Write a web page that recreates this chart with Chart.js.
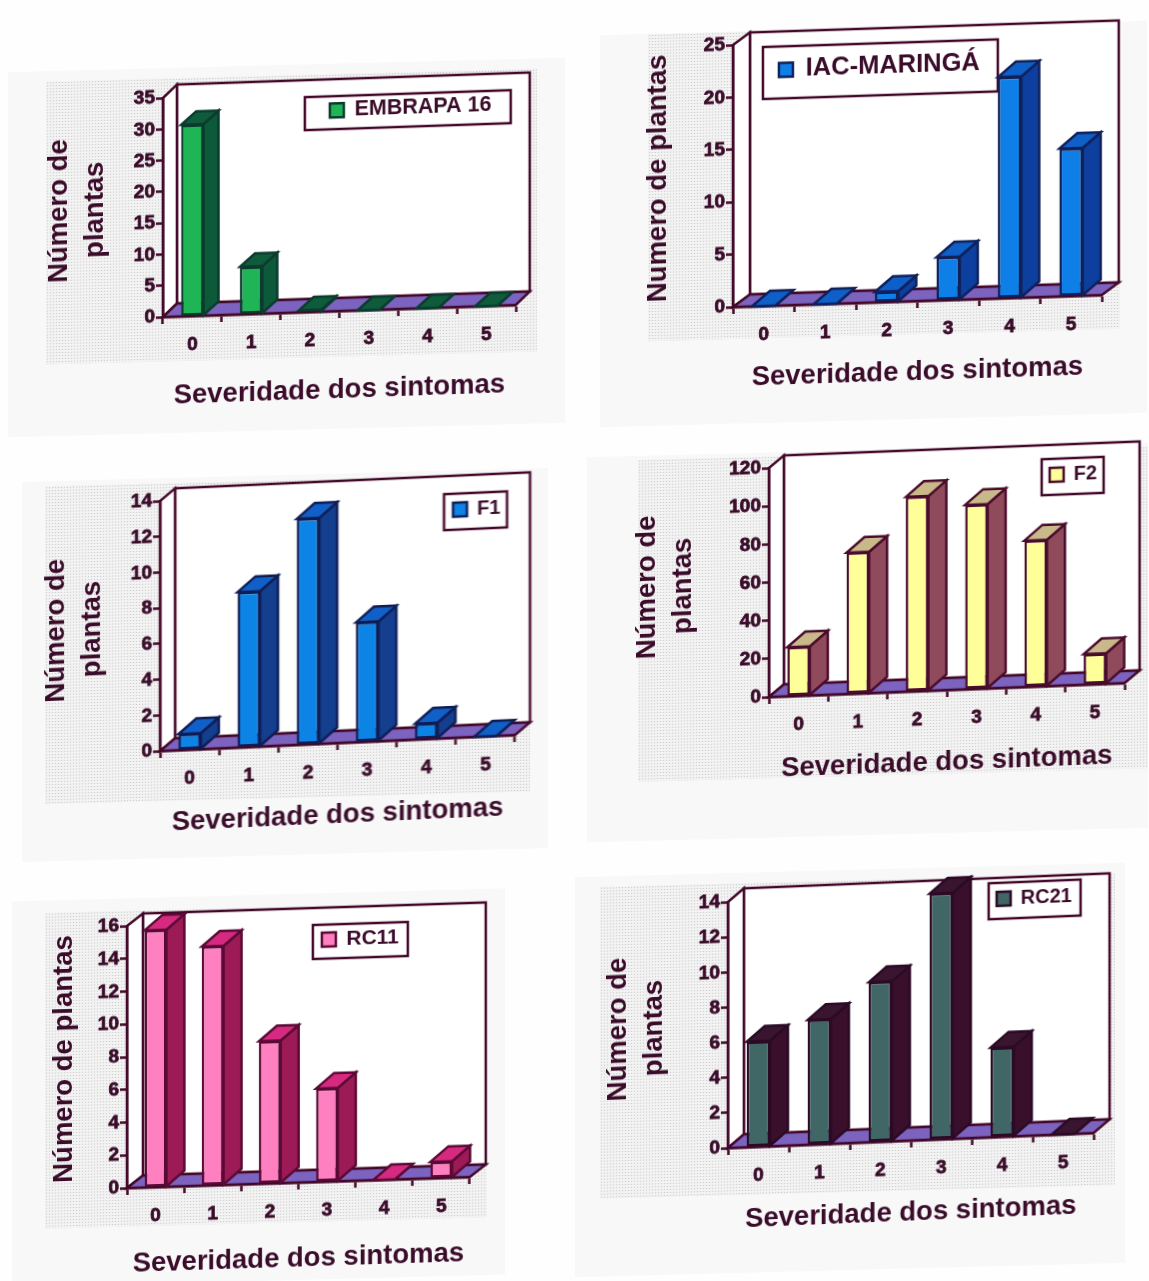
<!DOCTYPE html>
<html>
<head>
<meta charset="utf-8">
<title>Severidade dos sintomas</title>
<script src="https://cdn.jsdelivr.net/npm/chart.js@4"></script>
<style>
  html, body { margin: 0; padding: 0; background: #fefefe; }
  #page { position: relative; width: 1149px; height: 1281px; overflow: hidden; }
  .light, .dots, canvas { position: absolute; }
  .light { background: #f8f8f9; }
  .dots {
    background-color: #f3f3f3;
    background-image: radial-gradient(#cdcdcd 0.8px, transparent 0.9px);
    background-size: 3px 3px;
  }
  canvas { filter: blur(0.6px); }
</style>
</head>
<body>
<div id="page"></div>
<script>
const categories = ['0', '1', '2', '3', '4', '5'];
const embrapa16 = [30.6, 7.6, 0.3, 0, 0, 0];
const iacMaringa = [0, 0, 1, 4.1, 21.1, 14.1];
const f1 = [0.9, 8.7, 12.65, 6.7, 0.88, 0];
const f2 = [25.7, 74, 102, 96.6, 76.7, 16];
const rc11 = [15.7, 14.6, 8.7, 5.7, 0, 1];
const rc21 = [6, 7.1, 9.1, 14, 5.1, 0];

const xTitle = 'Severidade dos sintomas';
const ink = '#3a0c2a';
const wallLine = '#430829';
const floorColor = '#7b63bf';
const fontFamily = '"Liberation Sans", Arial, sans-serif';

// page patches of the scan
const lightPatches = [[8, 65, 565, 430], [600, 28, 1147, 420], [22, 475, 548, 855],
  [587, 450, 1148, 835], [12, 895, 505, 1281], [575, 870, 1125, 1270]];
const dotPatches = [[46, 75, 537, 358], [648, 28, 1120, 335], [45, 480, 530, 798],
  [638, 453, 1148, 775], [45, 907, 487, 1223], [600, 880, 1115, 1192]];

// ox,oy = front left corner of the plot on the page, legend = [x, y, w, h, inset, font]
const panels = [
  { name: 'EMBRAPA 16', data: embrapa16, yTitle: ['Número de', 'plantas'], yMax: 35, yStep: 5,
    ox: 163, oy: 317, w: 353, h: 219, skew: 1.95, titleX: 60, drop: 79, dx: 14, dy: 13, bx: 15, by: 13,
    legend: [142, -215, 206, 33, 25, 21.5],
    front: '#1fb556', side: '#0c5a3a', top: '#0e5c3c', line: '#0b3b2e' },
  { name: 'IAC-MARINGÁ', data: iacMaringa, yTitle: 'Numero de plantas', yMax: 25, yStep: 5,
    ox: 733, oy: 307, w: 369, h: 262, skew: 1.86, titleX: 659, drop: 71, dx: 17, dy: 12, bx: 18, by: 15,
    legend: [30, -259, 235, 52, 16, 25.5],
    front: '#0f7fe8', side: '#0c3f9e', top: '#0e5fc8', line: '#10205a' },
  { name: 'F1', data: f1, yTitle: ['Número de', 'plantas'], yMax: 14, yStep: 2,
    ox: 160, oy: 751, w: 355, h: 250, skew: 2.58, titleX: 57, drop: 72, dx: 15, dy: 12, bx: 18, by: 15,
    legend: [284, -244, 63, 36, 9, 20],
    front: '#0c84e6', side: '#143e8e', top: '#1160c8', line: '#0f1d55' },
  { name: 'F2', data: f2, yTitle: ['Número de', 'plantas'], yMax: 120, yStep: 20,
    ox: 769, oy: 697, w: 356, h: 229, skew: 2.25, titleX: 648, drop: 72, dx: 15, dy: 12, bx: 18, by: 15,
    legend: [273, -227, 62, 36, 8, 20],
    front: '#ffff99', side: '#8f4a5c', top: '#c9b98a', line: '#4a0c2c' },
  { name: 'RC11', data: rc11, yTitle: 'Número de plantas', yMax: 16, yStep: 2,
    ox: 127, oy: 1188, w: 343, h: 262, skew: 1.84, titleX: 65, drop: 76, dx: 16, dy: 12, bx: 18, by: 15,
    legend: [186, -257, 95, 34, 9, 21],
    front: '#ff80c0', side: '#9c1a55', top: '#d62a80', line: '#5a0a35' },
  { name: 'RC21', data: rc21, yTitle: ['Número de', 'plantas'], yMax: 14, yStep: 2,
    ox: 728, oy: 1148, w: 366, h: 246, skew: 2.35, titleX: 619, drop: 72, dx: 16, dy: 13, bx: 18, by: 15,
    legend: [261, -254, 92, 36, 8, 20],
    front: '#406666', side: '#3a0f2c', top: '#3a1530', line: '#2a0a25' }
];

function poly(ctx, pts, fill, stroke) {
  ctx.beginPath();
  pts.forEach((p, i) => i ? ctx.lineTo(p[0], p[1]) : ctx.moveTo(p[0], p[1]));
  ctx.closePath();
  ctx.fillStyle = fill;
  ctx.fill();
  ctx.lineWidth = 2.5;
  ctx.strokeStyle = stroke;
  ctx.stroke();
}

// Excel style 3d box: walls, floor, legend frame and the bar sides
const box3d = {
  id: 'box3d',
  afterLayout(chart) {
    const p = chart.options.plugins.box3d;
    const a = chart.chartArea;
    const lg = chart.legend;
    const [x, y, w, h, inset, size] = p.panel.legend;
    lg.left = a.left + x + inset - 8;
    lg.right = a.left + x + w;
    lg.top = a.bottom + y + (h - size * 1.2) / 2 - 8;
    lg.bottom = a.bottom + y + h + 10;
  },
  beforeDraw(chart) {
    const p = chart.options.plugins.box3d.panel;
    const ctx = chart.ctx;
    const a = chart.chartArea;
    const { dx, dy } = p;
    ctx.save();
    poly(ctx, [[a.left + dx, a.top - dy], [a.right + dx, a.top - dy], [a.right + dx, a.bottom - dy], [a.left + dx, a.bottom - dy]], '#ffffff', wallLine);
    poly(ctx, [[a.left, a.top], [a.left + dx, a.top - dy], [a.left + dx, a.bottom - dy], [a.left, a.bottom]], '#ffffff', wallLine);
    poly(ctx, [[a.left, a.bottom], [a.right, a.bottom], [a.right + dx, a.bottom - dy], [a.left + dx, a.bottom - dy]], floorColor, wallLine);
    const [x, y, w, h] = p.legend;
    ctx.fillStyle = '#ffffff';
    ctx.fillRect(a.left + x, a.bottom + y, w, h);
    ctx.lineWidth = 2.5;
    ctx.strokeStyle = wallLine;
    ctx.strokeRect(a.left + x, a.bottom + y, w, h);
    ctx.restore();
  },
  beforeDatasetsDraw(chart) {
    const p = chart.options.plugins.box3d.panel;
    const ctx = chart.ctx;
    const { bx, by } = p;
    ctx.save();
    chart.getDatasetMeta(0).data.forEach(bar => {
      const l = bar.x - bar.width / 2;
      const r = bar.x + bar.width / 2;
      poly(ctx, [[r, bar.y], [r + bx, bar.y - by], [r + bx, bar.base - by], [r, bar.base]], p.side, p.line);
      poly(ctx, [[l, bar.y], [l + bx, bar.y - by], [r + bx, bar.y - by], [r, bar.y]], p.top, p.line);
    });
    ctx.restore();
  }
};

const page = document.getElementById('page');

function addPatch(cls, r) {
  const d = document.createElement('div');
  d.className = cls;
  d.style.cssText = `left:${r[0]}px;top:${r[1]}px;width:${r[2] - r[0]}px;height:${r[3] - r[1]}px;transform:skewY(-1.5deg)`;
  page.appendChild(d);
}
lightPatches.forEach(r => addPatch('light', r));
dotPatches.forEach(r => addPatch('dots', r));

panels.forEach(p => {
  const padTop = 40;
  const padRight = 50;
  const yW = p.ox - (p.titleX - 18);
  const xH = p.drop + 18;
  const canvas = document.createElement('canvas');
  canvas.width = yW + p.w + padRight;
  canvas.height = padTop + p.h + xH + 2;
  const top = p.oy - p.h - padTop;
  canvas.style.left = (p.ox - yW) + 'px';
  canvas.style.top = top + 'px';
  canvas.style.transformOrigin = `${yW}px ${p.oy - top}px`;
  canvas.style.transform = `skewY(-${p.skew}deg)`;
  page.appendChild(canvas);

  new Chart(canvas, {
    type: 'bar',
    data: {
      labels: categories,
      datasets: [{
        label: p.name,
        data: p.data,
        backgroundColor: p.front,
        borderColor: p.line,
        borderWidth: 2.5,
        borderSkipped: false,
        barPercentage: 0.38,
        categoryPercentage: 1
      }]
    },
    plugins: [box3d],
    options: {
      responsive: false,
      animation: false,
      events: [],
      layout: { padding: { left: 0, top: padTop, right: padRight, bottom: 2 } },
      plugins: {
        box3d: { panel: p },
        tooltip: { enabled: false },
        legend: {
          position: 'chartArea',
          align: 'start',
          labels: {
            boxWidth: 14,
            boxHeight: 14,
            padding: 8,
            color: ink,
            font: { family: fontFamily, weight: 'bold', size: p.legend[5] }
          }
        }
      },
      scales: {
        x: {
          afterFit(scale) { scale.height = xH; },
          border: { color: wallLine, width: 2.5 },
          grid: { offset: true, drawOnChartArea: false, tickLength: 7, tickWidth: 2.5, tickColor: wallLine },
          ticks: { color: ink, padding: 10, maxRotation: 0, textStrokeColor: ink, textStrokeWidth: 0.8, font: { family: fontFamily, weight: 'bold', size: 19 } },
          title: { display: true, text: xTitle, color: ink, padding: 0, font: { family: fontFamily, weight: 'bold', size: 27.5, lineHeight: 1.3 } }
        },
        y: {
          min: 0,
          max: p.yMax,
          afterFit(scale) { scale.width = yW; },
          border: { color: wallLine, width: 2.5 },
          grid: { drawOnChartArea: false, tickLength: 7, tickWidth: 2.5, tickColor: wallLine },
          ticks: { stepSize: p.yStep, color: ink, padding: 1, textStrokeColor: ink, textStrokeWidth: 0.8, font: { family: fontFamily, weight: 'bold', size: 19 } },
          title: { display: true, text: p.yTitle, color: ink, padding: 0, font: { family: fontFamily, weight: 'bold', size: 27.5, lineHeight: 1.3 } }
        }
      }
    }
  });
});
</script>
</body>
</html>
